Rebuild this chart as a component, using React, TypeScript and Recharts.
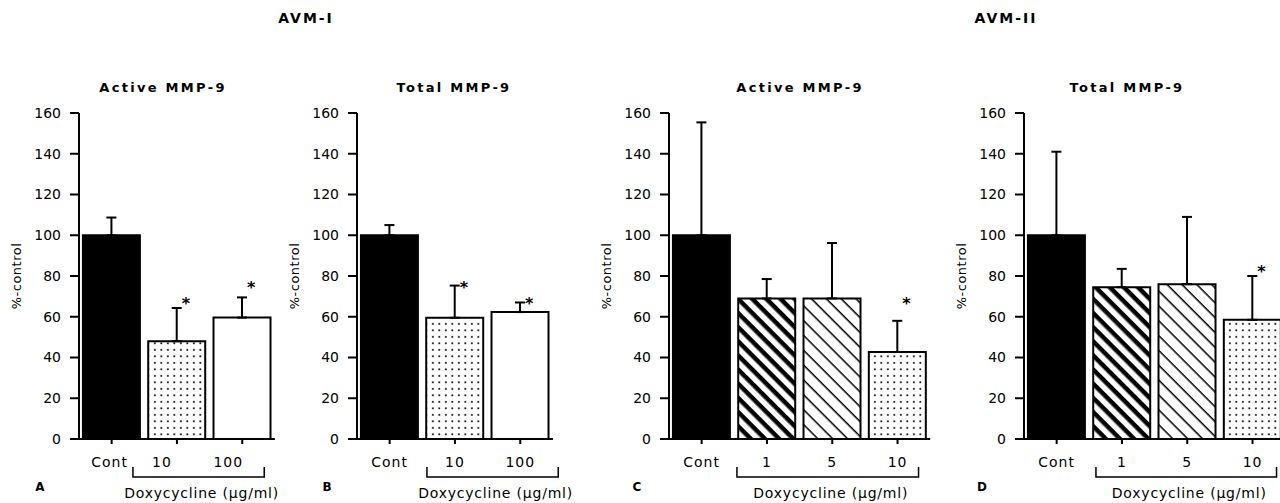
import React from "react";
import { ComposedChart, Bar, Cell, ErrorBar, Scatter, XAxis, YAxis } from "recharts";

const FONT = "'DejaVu Sans', Verdana, sans-serif";

// AVM-I
const avm1Doses = ["Cont", "10", "100"];
const avm1Active = [100, 48, 59.6];
const avm1ActiveTop = [108.7, 64.3, 69.5];
const avm1ActiveStar = [null, 68, 76];
const avm1Total = [100, 59.5, 62.3];
const avm1TotalTop = [105, 75.3, 67];
const avm1TotalStar = [null, 76, 68];

// AVM-II
const avm2Doses = ["Cont", "1", "5", "10"];
const avm2Active = [100, 69, 69, 42.7];
const avm2ActiveTop = [155.4, 78.5, 96.2, 58];
const avm2ActiveStar = [null, null, null, 68.4];
const avm2Total = [100, 74.5, 76, 58.5];
const avm2TotalTop = [141, 83.5, 109, 80];
const avm2TotalStar = [null, null, null, 84];

const yTicks = [0, 20, 40, 60, 80, 100, 120, 140, 160];

const BAND = 65.3;
const RIGHT = 45;
const axisStyle = { stroke: "#000", strokeWidth: 2 };

type PanelProps = {
  left: number;
  cats: string[];
  values: number[];
  tops: number[];
  stars: (number | null)[];
  fills: string[];
  brL: number;
  brR: number;
  labelDx?: number[];
};

const yLabel = (props: any) => {
  const vb = props.viewBox || { x: 0, y: 13, width: 70, height: 326 };
  const x = vb.x + 8;
  const y = vb.y + vb.height / 2;
  return (
    <text x={x} y={y} transform={`rotate(-90 ${x} ${y})`} textAnchor="middle"
      dominantBaseline="central" fontSize={13} letterSpacing={0.5} fill="#000">
      %-control
    </text>
  );
};

const StarShape = (props: any) => {
  if (props.payload?.star == null || props.cy == null || isNaN(props.cy)) return <g />;
  return (
    <text x={props.cx + 9} y={props.cy + 9} textAnchor="middle" fontSize={16} fontWeight="bold" fill="#000">
      *
    </text>
  );
};

function Panel(p: PanelProps) {
  const n = p.cats.length;
  const plotW = BAND * n;
  const data = p.cats.map((c, i) => ({
    cat: c,
    value: p.values[i],
    err: [0, p.tops[i] - p.values[i]],
    star: p.stars[i],
  }));

  const XTick = (t: any) => {
    const { x, y, index } = t;
    const dx = p.labelDx ? p.labelDx[index] : 0;
    let bracket = null;
    if (index === 1) {
      const x1 = x + p.brL;
      const x2 = x + (n - 2) * BAND + p.brR;
      bracket = (
        <g>
          <path d={`M${x1},${y + 21}V${y + 31}H${x2}V${y + 21}`} fill="none" stroke="#000" strokeWidth={1.5} />
          <text x={(x1 + x2) / 2 + 3} y={y + 52} textAnchor="middle" fontSize={14} letterSpacing={0.8} fill="#000">
            Doxycycline (μg/ml)
          </text>
        </g>
      );
    }
    return (
      <g>
        <text x={x + dx} y={y + 21} textAnchor="middle" fontSize={14} letterSpacing={1} fill="#000">
          {t.payload.value}
        </text>
        {bracket}
      </g>
    );
  };

  return (
    <div style={{ position: "absolute", left: p.left - 70, top: 100 }}>
      <ComposedChart width={70 + plotW + RIGHT} height={403} data={data}
        margin={{ top: 13, right: RIGHT, bottom: 0, left: 0 }} barCategoryGap="6%">
        <XAxis dataKey="cat" height={64} tickSize={5} tickMargin={2} interval={0}
          axisLine={axisStyle} tickLine={axisStyle} tick={XTick} />
        <XAxis xAxisId="top" dataKey="cat" orientation="top" height={0}
          tick={false} tickLine={false} axisLine={axisStyle} />
        <YAxis width={70} domain={[0, 160]} ticks={yTicks} interval={0} tickSize={9} tickMargin={9}
          tick={{ fontSize: 14, fill: "#000" }} axisLine={axisStyle} tickLine={axisStyle} label={yLabel} />
        <YAxis yAxisId="right" orientation="right" width={0} domain={[0, 160]}
          tick={false} tickLine={false} axisLine={axisStyle} />
        <Bar dataKey="value" stroke="#000" strokeWidth={2} isAnimationActive={false}>
          {data.map((d, i) => (
            <Cell key={d.cat} fill={p.fills[i]} />
          ))}
          <ErrorBar dataKey="err" direction="y" width={5} stroke="#000" strokeWidth={2} />
        </Bar>
        <Scatter dataKey="star" isAnimationActive={false} shape={StarShape} />
      </ComposedChart>
    </div>
  );
}

export default function App() {
  return (
    <div style={{ position: "absolute", left: 0, top: 0, width: 1280, height: 503, overflow: "hidden",
      background: "#fff", fontFamily: FONT }}>
      <svg width={0} height={0} style={{ position: "absolute" }}>
        <defs>
          <pattern id="dots" patternUnits="userSpaceOnUse" width={6.5} height={6.5}>
            <rect width={6.5} height={6.5} fill="#fff" />
            <rect x={2} y={2} width={1.7} height={1.7} fill="#000" />
          </pattern>
          <pattern id="thick" patternUnits="userSpaceOnUse" width={10} height={10} patternTransform="rotate(45)">
            <rect width={10} height={10} fill="#fff" />
            <rect width={10} height={4.5} fill="#000" />
          </pattern>
          <pattern id="thin" patternUnits="userSpaceOnUse" width={10.5} height={10.5} patternTransform="rotate(45)">
            <rect width={10.5} height={10.5} fill="#fff" />
            <rect width={10.5} height={1.5} fill="#000" />
          </pattern>
        </defs>
      </svg>

      <Panel left={79} cats={avm1Doses} values={avm1Active} tops={avm1ActiveTop} stars={avm1ActiveStar}
        fills={["#000", "url(#dots)", "#fff"]} brL={-44} brR={22} labelDx={[-2, -15, -14]} />
      <Panel left={357} cats={avm1Doses} values={avm1Total} tops={avm1TotalTop} stars={avm1TotalStar}
        fills={["#000", "url(#dots)", "#fff"]} brL={-28} brR={38} />
      <Panel left={669} cats={avm2Doses} values={avm2Active} tops={avm2ActiveTop} stars={avm2ActiveStar}
        fills={["#000", "url(#thick)", "url(#thin)", "url(#dots)"]} brL={-30} brR={21} />
      <Panel left={1024} cats={avm2Doses} values={avm2Total} tops={avm2TotalTop} stars={avm2TotalStar}
        fills={["#000", "url(#thick)", "url(#thin)", "url(#dots)"]} brL={-26} brR={24} />

      <svg width={1280} height={503} style={{ position: "absolute", left: 0, top: 0, pointerEvents: "none" }}>
        <g fontWeight="bold" fill="#000" textAnchor="middle" dominantBaseline="central">
          <text x={306} y={18} fontSize={14} letterSpacing={2}>AVM-I</text>
          <text x={1006} y={18} fontSize={14} letterSpacing={2}>AVM-II</text>
          <text x={163} y={87} fontSize={13} letterSpacing={2.3}>Active MMP-9</text>
          <text x={454} y={87} fontSize={13} letterSpacing={2.3}>Total MMP-9</text>
          <text x={800} y={87} fontSize={13} letterSpacing={2.3}>Active MMP-9</text>
          <text x={1127} y={87} fontSize={13} letterSpacing={2.3}>Total MMP-9</text>
          <text x={40} y={487} fontSize={12}>A</text>
          <text x={327} y={487} fontSize={12}>B</text>
          <text x={637} y={487} fontSize={12}>C</text>
          <text x={982} y={487} fontSize={12}>D</text>
        </g>
      </svg>
    </div>
  );
}
